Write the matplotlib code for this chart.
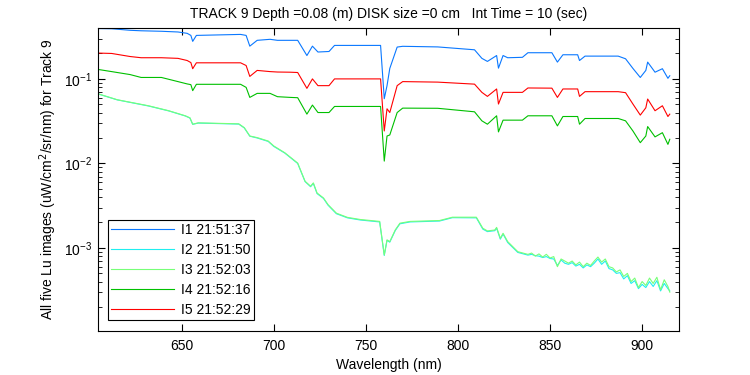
import matplotlib
matplotlib.use('Agg')
import matplotlib.pyplot as plt
from matplotlib.ticker import LogLocator, NullFormatter

plt.rcParams['font.family'] = ['Liberation Sans', 'DejaVu Sans']
FS = 10

TITLE = 'TRACK 9 Depth =0.08 (m) DISK size =0 cm   Int Time = 10 (sec)'
LABELS = ['I1 21:51:37', 'I2 21:51:50', 'I3 21:52:03', 'I4 21:52:16', 'I5 21:52:29']
COLORS = ['#0a78ff', '#20eef0', '#78ff78', '#00c000', '#ff0000']

# shared wavelength grid for the three upper spectra (nm)
wl_up = [605, 612, 622, 628, 639, 648, 653, 655, 656, 658, 682, 685, 687, 691, 698, 702, 709, 713,
         718, 721, 724, 730, 733, 758, 760, 761.5, 763, 767, 770, 789, 809, 813, 816, 821, 822,
         824.5, 827, 835, 838, 851, 854, 857, 865, 866, 869, 887, 891, 895, 899, 902, 903, 907,
         911, 914, 915]

i1 = [0.394, 0.392, 0.376, 0.371, 0.366, 0.359, 0.346, 0.327, 0.278, 0.327, 0.336, 0.327, 0.244,
      0.286, 0.294, 0.286, 0.286, 0.286, 0.189, 0.244, 0.208, 0.211, 0.249, 0.249, 0.0583, 0.0832,
      0.133, 0.238, 0.243, 0.239, 0.221, 0.175, 0.161, 0.189, 0.134, 0.189, 0.178, 0.180, 0.204,
      0.204, 0.158, 0.193, 0.193, 0.165, 0.186, 0.186, 0.173, 0.133, 0.104, 0.126, 0.158, 0.120,
      0.132, 0.1016, 0.109]

i5 = [0.202, 0.200, 0.184, 0.178, 0.178, 0.175, 0.165, 0.156, 0.132, 0.155, 0.155, 0.144, 0.107,
      0.126, 0.122, 0.1206, 0.120, 0.119, 0.0773, 0.100, 0.0832, 0.0832, 0.100, 0.100, 0.0242,
      0.0443, 0.0400, 0.0832, 0.0929, 0.0916, 0.0867, 0.0693, 0.0621, 0.0760, 0.0504, 0.0693,
      0.0693, 0.0693, 0.0781, 0.0777, 0.0604, 0.0760, 0.0760, 0.0621, 0.0706, 0.0706, 0.0687,
      0.0504, 0.0373, 0.0455, 0.0578, 0.0420, 0.0481, 0.0359, 0.0383]

i4 = [0.129, 0.122, 0.1125, 0.104, 0.104, 0.0929, 0.0872, 0.0855, 0.0726, 0.0863, 0.0863, 0.0794,
      0.0604, 0.0674, 0.0674, 0.0616, 0.0604, 0.0599, 0.0383, 0.0490, 0.0400, 0.0400, 0.0472,
      0.0472, 0.01065, 0.0211, 0.0217, 0.0400, 0.0451, 0.0449, 0.0408, 0.0319, 0.0291, 0.0366,
      0.0236, 0.0325, 0.0325, 0.0325, 0.0366, 0.0366, 0.0278, 0.0359, 0.0359, 0.0291, 0.0340,
      0.0340, 0.0319, 0.0242, 0.0176, 0.0211, 0.0273, 0.0206, 0.0231, 0.0168, 0.0193]

# grid for the two dim spectra (I2, I3)
wl_low = [605, 615, 632, 643, 652, 654.5, 656, 659, 681, 684, 687, 691, 697, 700, 706, 713, 717,
          720, 721.5, 723.5, 727, 729.5, 734, 740, 747, 757.5, 760, 761.5, 763, 766, 768.5, 774,
          790, 797, 810, 813.5, 816, 820, 821, 823, 824.5, 827, 832.5, 838] + list(range(840, 915, 2)) + [915]

i3 = [0.0663, 0.0567, 0.0481, 0.0420, 0.0366, 0.0346, 0.0291, 0.0302, 0.0294, 0.0265, 0.0211,
      0.0202, 0.0184, 0.0161, 0.01337, 0.01009, 0.00615, 0.00537, 0.00588, 0.00447, 0.00390,
      0.00325, 0.00258, 0.00230, 0.00217, 0.00206, 0.000826, 0.001245, 0.001189, 0.001637,
      0.001963, 0.00206, 0.00211, 0.00231, 0.00231, 0.00171, 0.00159, 0.00163, 0.00175, 0.00130,
      0.00149, 0.00119, 0.000903, 0.000839,
      0.00087, 0.00080, 0.00085, 0.00078, 0.00084, 0.00076, 0.00079, 0.00060, 0.00074, 0.00070,
      0.00066, 0.00070, 0.00063, 0.00068, 0.00060, 0.00066, 0.00062, 0.00070, 0.00078, 0.00068,
      0.00074, 0.00060, 0.00058, 0.00052, 0.00055, 0.00046, 0.00050, 0.00040, 0.00044, 0.00034,
      0.00040, 0.00036, 0.00044, 0.00038, 0.00045, 0.00032, 0.00042, 0.00035, 0.00030]

i2 = [0.0660, 0.0565, 0.0478, 0.0418, 0.0364, 0.0344, 0.0290, 0.0300, 0.0292, 0.0263, 0.0210,
      0.0200, 0.0182, 0.0159, 0.01325, 0.00998, 0.00610, 0.00530, 0.00580, 0.00440, 0.00385,
      0.00320, 0.00254, 0.00227, 0.00214, 0.00203, 0.000815, 0.00123, 0.00117, 0.00161,
      0.00193, 0.00203, 0.00208, 0.00228, 0.00227, 0.00167, 0.00156, 0.00160, 0.00171, 0.00127,
      0.00146, 0.00116, 0.000885, 0.000822,
      0.00084, 0.00081, 0.00080, 0.00077, 0.00079, 0.00075, 0.00074, 0.00062, 0.00072, 0.00066,
      0.00064, 0.00067, 0.00061, 0.00064, 0.00058, 0.00063, 0.00060, 0.00066, 0.00074, 0.00064,
      0.00070, 0.00057, 0.00055, 0.00050, 0.00051, 0.00043, 0.00047, 0.00038, 0.00041, 0.00033,
      0.00037, 0.00034, 0.00040, 0.00035, 0.00041, 0.00031, 0.00038, 0.00033, 0.00031]


def plot_spectra():
    f = plt.figure(figsize=(7.5, 3.75), dpi=100)
    ax = f.add_axes([0.1307, 0.1173, 0.7746, 0.808])
    series = [(wl_up, i1), (wl_low, i2), (wl_low, i3), (wl_up, i4), (wl_up, i5)]
    for (x, y), label, color in zip(series, LABELS, COLORS):
        ax.plot(x, y, color=color, lw=0.8, label=label)
    ax.set_yscale('log')
    ax.set_xlim(604.6, 920)
    ax.set_ylim(1.04e-4, 0.4)
    ax.set_xticks([650, 700, 750, 800, 850, 900])
    ax.yaxis.set_major_locator(LogLocator(base=10))
    ax.yaxis.set_minor_locator(LogLocator(base=10, subs=range(2, 10)))
    ax.yaxis.set_minor_formatter(NullFormatter())
    ax.tick_params(which='both', direction='in', top=True, right=True, labelsize=FS)
    ax.tick_params(which='major', length=5)
    ax.tick_params(which='minor', length=3)
    ax.tick_params(axis='x', pad=6)
    ax.tick_params(axis='y', pad=4)
    for s in ax.spines.values():
        s.set_linewidth(0.8)
    ax.set_xlabel('Wavelength (nm)', fontsize=FS, labelpad=3)
    ax.set_ylabel('All five Lu images (uW/cm$^2$/sr/nm) for Track 9', fontsize=FS, labelpad=4)
    ax.set_title(TITLE, fontsize=FS, pad=7)
    leg = ax.legend(loc='lower left', bbox_to_anchor=(0.017, 0.036), borderaxespad=0,
                    fontsize=FS, handlelength=4.5, handletextpad=0.5, labelspacing=0.42,
                    borderpad=0.25, fancybox=False, framealpha=1)
    leg.get_frame().set_edgecolor('black')
    leg.get_frame().set_linewidth(0.8)
    f.savefig('out.png', dpi=100)


if __name__ == '__main__':
    plot_spectra()
